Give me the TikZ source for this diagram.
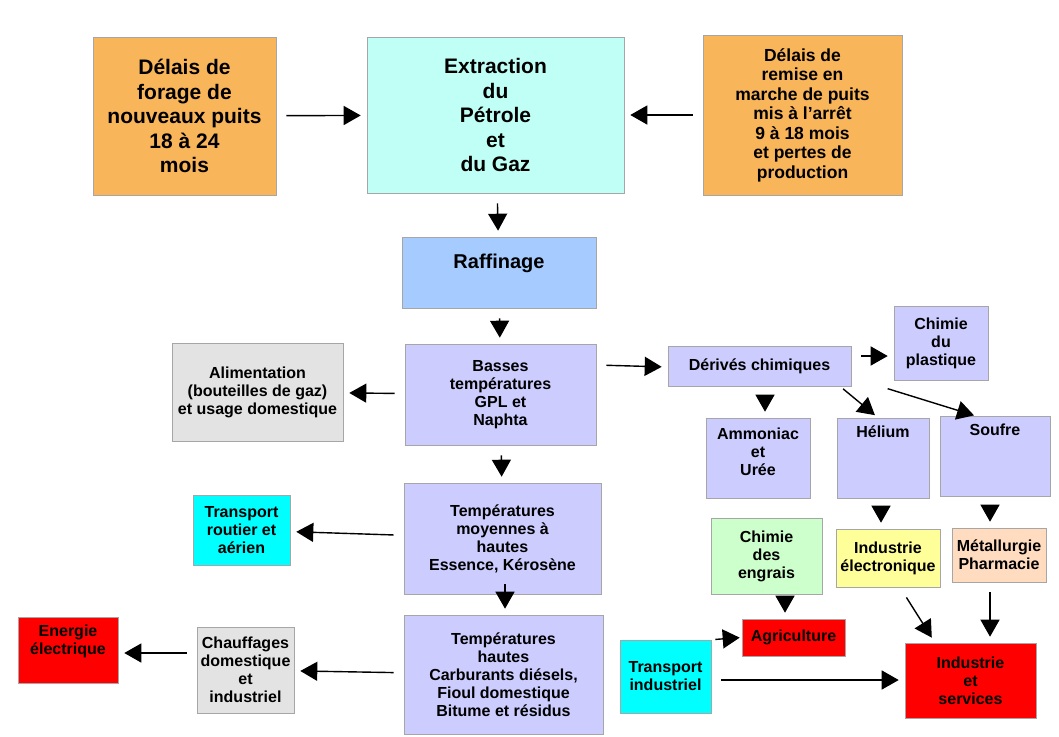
\documentclass[tikz,border=0pt]{standalone}
\usepackage{fontspec}
\setmainfont{Liberation Sans}
\usetikzlibrary{arrows.meta}
\definecolor{orangebox}{HTML}{F9B55A}
\definecolor{cyanlight}{HTML}{C0FFF6}
\definecolor{bluebox}{HTML}{A6CCFF}
\definecolor{lavbox}{HTML}{CCCCFF}
\definecolor{greybox}{HTML}{E3E3E3}
\definecolor{cyanbox}{HTML}{00FFFF}
\definecolor{greenbox}{HTML}{CCFFCC}
\definecolor{yellowbox}{HTML}{FFFF99}
\definecolor{peachbox}{HTML}{FFDCC0}
\definecolor{redbox}{HTML}{FF0000}
\tikzset{
  box/.style={draw=gray!70,line width=0.6pt,align=center,font=\bfseries\fontsize{16}{18}\selectfont,inner sep=1pt},
  big/.style={font=\bfseries\fontsize{21}{24.5}\selectfont},
  mid/.style={font=\bfseries\fontsize{17.5}{19.5}\selectfont},
  flow/.style={-{Triangle[length=17pt,width=19pt]},line width=1.4pt,shorten >=6pt,shorten <=10pt}
}
\newcommand{\bx}[6]{\node[box,#6,minimum width=#4-#2,minimum height=#5-#3] (#1) at ({(#2+#4)/2},{(#3+#5)/2})}
\begin{document}
\begin{tikzpicture}[x=1pt,y=-1pt]
\useasboundingbox[fill=white] (0,0) rectangle (1059,736);
% sources
\bx{forage}{93}{37}{276}{195}{fill=orangebox,big} {Délais de\\forage de\\nouveaux puits\\18 à 24\\mois};
\bx{extract}{367}{37}{624}{193}{fill=cyanlight,big} {Extraction\\du\\Pétrole\\et\\du Gaz};
\bx{remise}{703}{35}{902}{195}{fill=orangebox,mid} {Délais de\\remise en\\marche de puits\\mis à l'arrêt\\9 à 18 mois\\et pertes de\\production};
\bx{raff}{402}{237}{596}{308}{fill=bluebox,font=\bfseries\fontsize{20}{22}\selectfont,text depth=22pt} {Raffinage};
% coupes
\bx{basses}{405}{344}{596}{445}{fill=lavbox} {Basses\\températures\\GPL et\\Naphta};
\bx{moy}{404}{483}{601}{594}{fill=lavbox} {Températures\\moyennes à\\hautes\\Essence, Kérosène};
\bx{hautes}{404}{615}{603}{734}{fill=lavbox} {Températures\\hautes\\Carburants diésels,\\Fioul domestique\\Bitume et résidus};
% usages
\bx{alim}{172}{343}{343}{441}{fill=greybox} {Alimentation\\(bouteilles de gaz)\\et usage domestique};
\bx{route}{193}{495}{290}{565}{fill=cyanbox} {Transport\\routier et\\aérien};
\bx{chauf}{197}{627}{294}{713}{fill=greybox} {Chauffages\\domestique\\et\\industriel};
\bx{energie}{18}{617}{118}{683}{fill=redbox,text depth=20pt} {Energie\\électrique};
% chimie
\bx{derives}{668}{346}{851}{386}{fill=lavbox} {Dérivés chimiques};
\bx{plast}{894}{306}{988}{380}{fill=lavbox} {Chimie\\du\\plastique};
\bx{ammo}{706}{418}{810}{498}{fill=lavbox,text depth=12pt} {Ammoniac\\et\\Urée};
\bx{helium}{837}{418}{929}{498}{fill=lavbox,text depth=52pt} {Hélium};
\bx{soufre}{940}{416}{1050}{496}{fill=lavbox,text depth=52pt} {Soufre};
\bx{engrais}{711}{518}{822}{594}{fill=greenbox} {Chimie\\des\\engrais};
\bx{elec}{836}{529}{940}{587}{fill=yellowbox} {Industrie\\électronique};
\bx{metal}{952}{528}{1046}{582}{fill=peachbox} {Métallurgie\\Pharmacie};
\bx{agri}{742}{619}{845}{656}{fill=redbox} {Agriculture};
\bx{trind}{620}{640}{711}{713}{fill=cyanbox} {Transport\\industriel};
\bx{indus}{905}{643}{1036}{718}{fill=redbox} {Industrie\\et\\services};
% connecteurs
\draw[flow] (forage) -- (extract);
\draw[flow] (remise) -- (extract);
\draw[flow] (extract) -- (raff);
\draw[flow] (raff) -- (basses);
\draw[flow] (basses) -- (moy);
\draw[flow] (moy.south-|505,0) -- (hautes.north-|505,0);
\draw[flow] (basses) -- (alim);
\draw[flow] (moy) -- (route);
\draw[flow] (hautes) -- (chauf);
\draw[flow] (chauf.west|-0,653) -- (energie.east|-0,653);
\draw[flow] (basses.east|-0,365) -- (derives.west|-0,367);
\draw[flow] (derives.east|-0,356) -- (plast.west|-0,356);
\draw[flow] (derives.south-|765,0) -- (ammo.north-|765,0);
\draw[flow,shorten <=4pt,shorten >=4pt] (derives.south-|840,0) -- (helium.north-|878,0);
\draw[flow,shorten <=8pt,shorten >=1pt] (derives.south-|880,0) -- (soufre.north-|975,0);
\draw[flow] (helium.south-|881,0) -- (elec.north-|881,0);
\draw[flow] (soufre.south-|990,0) -- (metal.north-|990,0);
\draw[flow] (engrais.south-|785,0) -- (agri.north-|785,0);
\draw[flow,shorten <=4pt,shorten >=2pt] (trind.north east) -- (agri.west);
\draw[flow] (trind.east|-0,680) -- (indus.west|-0,680);
\draw[flow,shorten <=12pt] (elec.south-|900,0) -- (indus.north-|935,0);
\draw[flow] (metal.south-|990,0) -- (indus.north-|990,0);
\end{tikzpicture}
\end{document}
